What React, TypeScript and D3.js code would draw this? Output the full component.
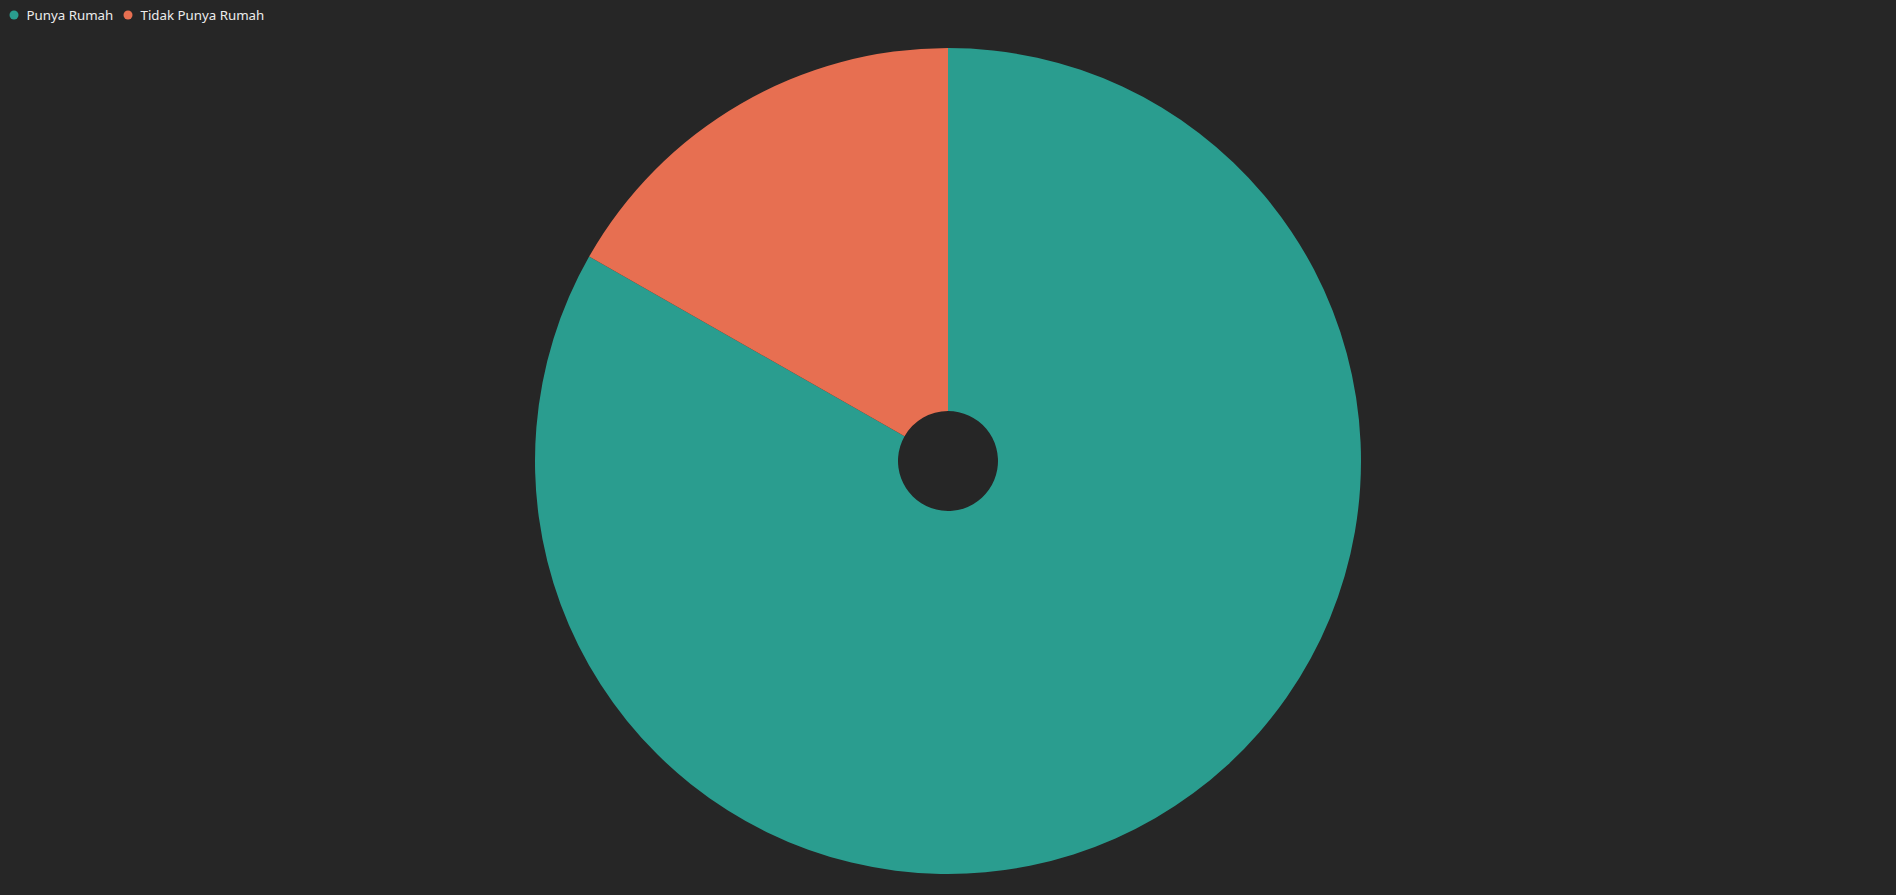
import React, { useEffect, useRef } from 'react';
import * as d3 from 'd3';

const categories = ['Punya Rumah', 'Tidak Punya Rumah'];
const values = [83.24, 16.76];
const colors = ['#2a9d8f', '#e76f51'];

const App: React.FC = () => {
  const width = 1896;
  const height = 895;
  const svgRef = useRef<SVGSVGElement>(null);

  useEffect(() => {
    const svg = d3.select(svgRef.current);
    svg.selectAll('*').remove();

    svg.append('rect')
      .attr('width', width)
      .attr('height', height)
      .attr('fill', '#262626');

    const cx = 948;
    const cy = 461;
    const outer = 413;
    const inner = 50;

    const data = categories.map((c, i) => ({ name: c, value: values[i] }));

    const pie = d3.pie<{ name: string; value: number }>()
      .value(d => d.value)
      .sort(null);

    const arc = d3.arc<d3.PieArcDatum<{ name: string; value: number }>>()
      .innerRadius(inner)
      .outerRadius(outer);

    const g = svg.append('g').attr('transform', `translate(${cx},${cy})`);
    g.selectAll('path')
      .data(pie(data))
      .enter()
      .append('path')
      .attr('d', arc)
      .attr('fill', (_d, i) => colors[i]);

    // legend
    const legend = svg.append('g').attr('transform', 'translate(0,15)');
    const itemX = [14, 128];
    categories.forEach((c, i) => {
      const item = legend.append('g').attr('transform', `translate(${itemX[i]},0)`);
      item.append('circle')
        .attr('r', 4.5)
        .attr('fill', colors[i]);
      item.append('text')
        .attr('x', 12.5)
        .attr('y', 5)
        .attr('fill', '#ececec')
        .style('font-family', '"Noto Sans", "Open Sans", sans-serif')
        .style('font-size', '13.3px')
        .text(c);
    });
  }, []);

  return (
    <div style={{ position: 'fixed', left: 0, top: 0 }}>
      <svg ref={svgRef} width={width} height={height} style={{ display: 'block' }}></svg>
    </div>
  );
};

export default App;
